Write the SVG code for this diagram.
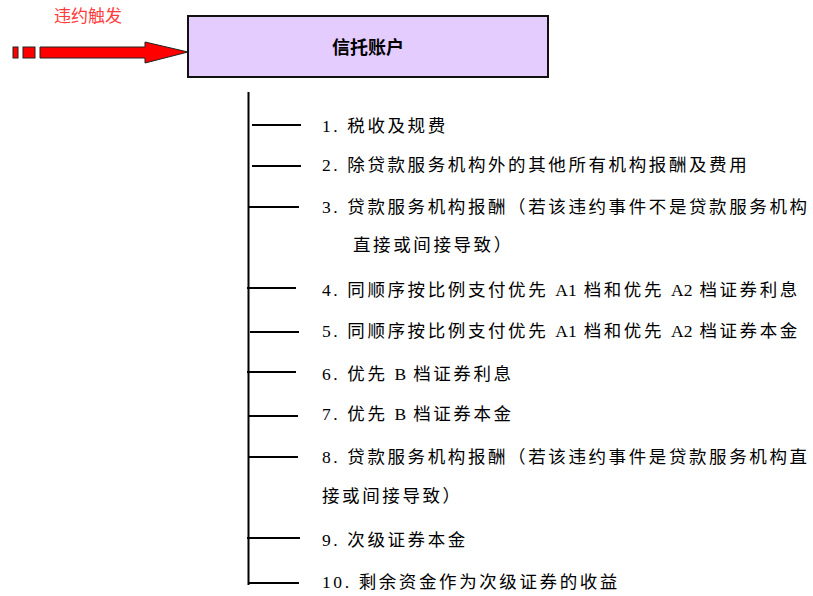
<svg xmlns="http://www.w3.org/2000/svg" width="813" height="596" viewBox="0 0 813 596">
<style>
.item{font-family:"Liberation Serif","Noto Sans CJK SC",serif;font-size:17.5px;fill:#000;letter-spacing:2.6px}
.lat{letter-spacing:0}
.br{stroke:#000;stroke-width:2}
</style>
<rect width="813" height="596" fill="#fff"/>
<g id="trigger">
<text x="54" y="22" font-family="Liberation Sans,'Noto Sans CJK SC',sans-serif" font-size="17" fill="#FF3B3B">违约触发</text>
<rect x="13" y="47" width="5" height="11" fill="#FF0000" stroke="#222" stroke-width="1"/>
<rect x="23" y="47" width="12" height="11" fill="#FF0000" stroke="#222" stroke-width="1"/>
<polygon points="40,47 145,47 145,42 188,52 145,63 145,58 40,58" fill="#FF0000" stroke="#222" stroke-width="1"/>
</g>
<g id="account">
<rect x="188" y="16" width="360" height="61" fill="#E5CCFF" stroke="#111" stroke-width="2"/>
<text x="368" y="54" text-anchor="middle" font-family="'Noto Sans CJK SC',sans-serif" font-weight="bold" font-size="18">信托账户</text>
</g>
<g id="connectors">
<line class="br" x1="248.5" y1="92" x2="248.5" y2="585"/>
<line class="br" x1="252" y1="125" x2="301" y2="125"/>
<line class="br" x1="252" y1="166" x2="301" y2="166"/>
<line class="br" x1="249" y1="207" x2="299" y2="207"/>
<line class="br" x1="247" y1="288" x2="296" y2="288"/>
<line class="br" x1="250" y1="332" x2="299" y2="332"/>
<line class="br" x1="247" y1="372" x2="296" y2="372"/>
<line class="br" x1="249" y1="416" x2="298" y2="416"/>
<line class="br" x1="249" y1="457" x2="298" y2="457"/>
<line class="br" x1="247" y1="538" x2="300" y2="538"/>
<line class="br" x1="249" y1="583" x2="299" y2="583"/>
</g>
<g id="items">
<text class="item" x="322" y="132">1. 税收及规费</text>
<text class="item" x="322" y="171">2. 除贷款服务机构外的其他所有机构报酬及费用</text>
<text class="item" x="322" y="213">3. 贷款服务机构报酬（若该违约事件不是贷款服务机构</text>
<text class="item" x="353" y="251">直接或间接导致）</text>
<text class="item" x="322" y="296">4. 同顺序按比例支付优先 <tspan class="lat">A1</tspan> 档和优先 <tspan class="lat">A2</tspan> 档证券利息</text>
<text class="item" x="322" y="337">5. 同顺序按比例支付优先 <tspan class="lat">A1</tspan> 档和优先 <tspan class="lat">A2</tspan> 档证券本金</text>
<text class="item" x="322" y="380">6. 优先 <tspan class="lat">B</tspan> 档证券利息</text>
<text class="item" x="322" y="420">7. 优先 <tspan class="lat">B</tspan> 档证券本金</text>
<text class="item" x="322" y="463">8. 贷款服务机构报酬（若该违约事件是贷款服务机构直</text>
<text class="item" x="322" y="502">接或间接导致）</text>
<text class="item" x="322" y="546">9. 次级证券本金</text>
<text class="item" x="322" y="588">10. 剩余资金作为次级证券的收益</text>
</g>
</svg>
